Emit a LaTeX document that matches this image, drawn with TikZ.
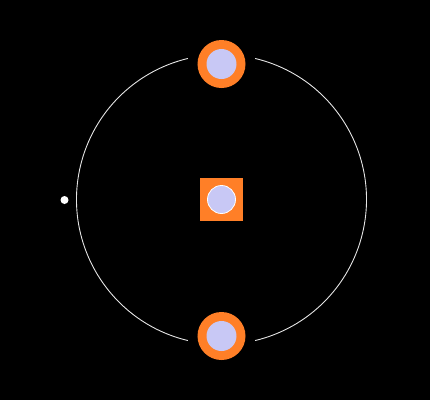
\documentclass[tikz,border=0pt]{standalone}
\definecolor{ringorange}{HTML}{FF7F27}
\definecolor{lav}{HTML}{C8C8F5}
\tikzset{
  ring/.style={circle, fill=ringorange, minimum size=48bp, inner sep=0pt},
  core/.style={circle, fill=lav, minimum size=30bp, inner sep=0pt},
  padsq/.style={rectangle, fill=ringorange, minimum size=43bp, inner sep=0pt},
  corec/.style={circle, fill=lav, draw=white, line width=0.8bp, minimum size=28bp, inner sep=0pt},
  dot/.style={circle, fill=white, minimum size=8bp, inner sep=0pt},
  orbit/.style={draw=white!90!black, line width=0.9bp}
}
\begin{document}
\begin{tikzpicture}[x=1bp,y=-1bp]
\fill[black] (0,0) rectangle (430,400);
\useasboundingbox (0,0) rectangle (430,400);
\coordinate (c) at (221.5,199.5);
\draw[orbit] ([shift={(103.4:145)}]c) arc[start angle=103.4, end angle=256.6, radius=145];
\draw[orbit] ([shift={(-76.6:145)}]c) arc[start angle=-76.6, end angle=76.6, radius=145];
\node[ring] (top) at (221.5,64) {};
\node[core] (topc) at (top) {};
\node[ring] (bot) at (221.5,336) {};
\node[core] (botc) at (bot) {};
\node[padsq] (mid) at (221.5,199.5) {};
\node[corec] (midc) at (mid) {};
\node[dot] (d) at (64.5,200) {};
\end{tikzpicture}
\end{document}
